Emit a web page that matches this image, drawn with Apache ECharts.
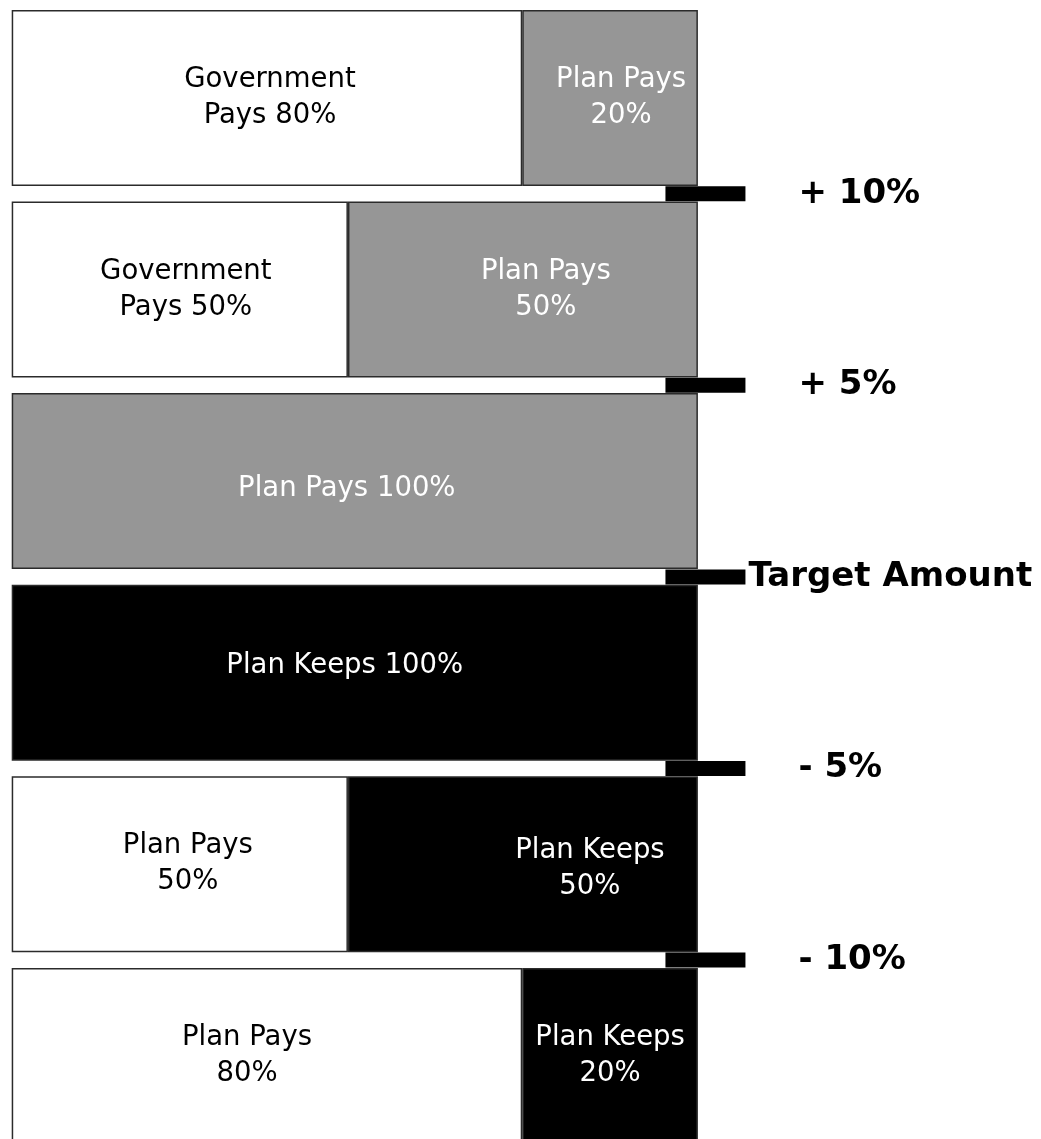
<!DOCTYPE html>
<html>
<head>
<meta charset="utf-8">
<script src="https://cdn.jsdelivr.net/npm/echarts@6/dist/echarts.min.js"></script>
<style>
  html, body { margin: 0; padding: 0; background: #fff; overflow: hidden; }
  #chart { width: 1041px; height: 1152px; }
</style>
</head>
<body>
<div id="chart"></div>
<script>
// rows, top to bottom
const tiers = ['above10', 'above5', 'upToTarget', 'belowTarget', 'below5', 'below10'];
// share of each bar (left segment / right segment)
const leftShare = [74.4, 49, null, null, 49, 74.4];
const rightShare = [25.6, 51, 100, 100, 51, 25.6];
// segment role: other party / plan pays / plan keeps
const leftRole = ['other', 'other', null, null, 'other', 'other'];
const rightRole = ['pays', 'pays', 'pays', 'keeps', 'keeps', 'keeps'];
const leftText = ['Government\nPays 80%', 'Government\nPays 50%', '', '', 'Plan Pays\n50%', 'Plan Pays\n80%'];
const rightText = ['Plan Pays\n20%', 'Plan Pays\n50%', 'Plan Pays 100%', 'Plan Keeps 100%', 'Plan Keeps\n50%', 'Plan Keeps\n20%'];
// corridor markers between rows
const corridorAt = [1, 2, 3, 4, 5];
const corridorText = ['+ 10%', '+ 5%', 'Target Amount', '- 5%', '- 10%'];

const roleFill = { other: '#ffffff', pays: '#969696', keeps: '#000000' };
const roleText = { other: '#000000', pays: '#ffffff', keeps: '#ffffff' };
// small nudges so labels sit where they do in the original
const leftNudge = [[3, 0], [6, 0], [0, 0], [0, 0], [8, 0], [-20, 0]];
const rightNudge = [[11, 0], [23, 0], [-8, 8], [-10, -7], [67, 5], [0, 0]];

function segments(values, roles, texts, nudge) {
  return values.map((v, i) => {
    if (v == null) return { value: null };
    const role = roles[i];
    return {
      value: v,
      itemStyle: { color: roleFill[role] },
      label: { color: roleText[role], formatter: texts[i], offset: nudge[i] }
    };
  });
}

const barLabel = {
  show: true, position: 'inside',
  fontFamily: 'DejaVu Sans', fontSize: 27.5, lineHeight: 36
};

const chart = echarts.init(document.getElementById('chart'));
chart.setOption({
  animation: false,
  grid: { left: 11.7, width: 1031.4, top: 2.1, height: 1149.6, containLabel: false },
  xAxis: { type: 'value', min: 0, max: 150, show: false },
  yAxis: [
    { type: 'category', data: tiers, inverse: true, show: false },
    { type: 'value', min: 0, max: 6, inverse: true, show: false }
  ],
  series: [
    {
      type: 'bar', stack: 'all', yAxisIndex: 0, barWidth: 176,
      data: segments(leftShare, leftRole, leftText, leftNudge),
      itemStyle: { borderColor: '#2b2b2b', borderWidth: 1.5 },
      label: barLabel
    },
    {
      type: 'bar', stack: 'all', yAxisIndex: 0, barWidth: 176,
      data: segments(rightShare, rightRole, rightText, rightNudge),
      itemStyle: { borderColor: '#2b2b2b', borderWidth: 1.5 },
      label: barLabel
    },
    {
      type: 'scatter', yAxisIndex: 1, clip: false,
      symbol: 'rect', symbolSize: [80, 15],
      itemStyle: { color: '#000', opacity: 1 },
      data: corridorAt.map((b, i) => ({
        value: [101.1, b],
        label: { distance: corridorText[i] === 'Target Amount' ? 3 : 53 }
      })),
      label: {
        show: true, position: 'right',
        formatter: p => corridorText[p.dataIndex],
        color: '#000', fontFamily: 'DejaVu Sans', fontWeight: 'bold', fontSize: 34
      }
    }
  ]
});
</script>
</body>
</html>
